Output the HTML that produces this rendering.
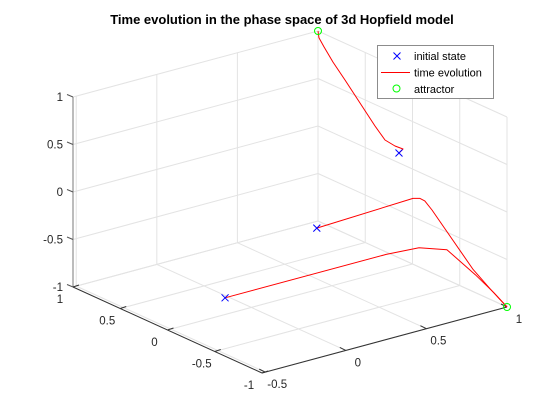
<!DOCTYPE html>
<html><head><meta charset="utf-8">
<style>
body{margin:0;background:#fff;}
svg{display:block;font-family:"Liberation Sans",Arial,sans-serif;}
</style></head>
<body>
<svg id="chart" width="560" height="420" viewBox="0 0 560 420" xmlns="http://www.w3.org/2000/svg">
<rect x="0" y="0" width="560" height="420" fill="#fff"/>
<text x="282" y="24" text-anchor="middle" font-size="13" font-weight="bold" fill="#000">Time evolution in the phase space of 3d Hopfield model</text>
<g id="grid"></g>
<g id="axes"></g>
<g id="series"></g>
<g>
<rect x="377.5" y="45.5" width="116" height="53" fill="#fff" stroke="#8c8c8c" stroke-width="1"/>
<g>
<path d="M393.5 52.5 L400.5 59.5 M400.5 52.5 L393.5 59.5" stroke="#0000ff" stroke-width="1" fill="none"/>
<text x="414" y="60" font-size="11" fill="#000">initial state</text>
</g>
<g>
<line x1="381" y1="72.5" x2="410" y2="72.5" stroke="#ff0000" stroke-width="1"/>
<text x="414" y="76.5" font-size="11" fill="#000">time evolution</text>
</g>
<g>
<circle cx="396.5" cy="88.5" r="3.5" fill="none" stroke="#00ff00" stroke-width="1"/>
<text x="414" y="93" font-size="11" fill="#000">attractor</text>
</g>
</g>
</svg>
<script>
// axis limits and ticks
const xLim = [-0.52, 1];
const yLim = [-1, 1];
const zLim = [-1, 1];
const xTicks = [-0.5, 0, 0.5, 1];
const yTicks = [-1, -0.5, 0, 0.5, 1];
const zTicks = [-1, -0.5, 0, 0.5, 1];
const xTickLabels = ["-0.5", "0", "0.5", "1"];
const yTickLabels = ["-1", "-0.5", "0", "0.5", "1"];
const zTickLabels = ["-1", "-0.5", "0", "0.5", "1"];
// trajectories (x, y, z)
const traj1X = [1, 1, 1, 1, 1, 1, 1, 1, 1, 1, 1];
const traj1Y = [0.143, 0.101, 0.185, 0.291, 0.397, 0.556, 0.714, 0.841, 0.937, 0.989, 1];
const traj1Z = [0.104, 0.165, 0.158, 0.174, 0.273, 0.443, 0.614, 0.745, 0.861, 0.932, 1];
const traj2X = [-0.18, 0.417, 0.46, 0.49, 0.535, 0.62, 0.79, 0.895, 1];
const traj2Y = [-1, -1, -1, -1, -1, -1, -1, -1, -1];
const traj2Z = [0.37, 0.41, 0.39, 0.35, 0.234, -0.016, -0.51, -0.76, -1];
const traj3X = [-0.5, 0.5, 0.7, 0.85, 0.95, 0.99, 1];
const traj3Y = [-0.575, -0.575, -0.58, -0.62, -0.75, -0.88, -1];
const traj3Z = [-0.41, -0.41, -0.43, -0.5, -0.75, -0.9, -1];
const initX = [1, -0.18, -0.5];
const initY = [0.143, -1, -0.575];
const initZ = [0.104, 0.37, -0.41];
const attrX = [1, 1];
const attrY = [1, -1];
const attrZ = [1, -1];

const NS = "http://www.w3.org/2000/svg";
const O = [262, 373];
const EX = [245 / (xLim[1] - xLim[0]), -66 / (xLim[1] - xLim[0])];
const EY = [-189 / 2, -86 / 2];
const EZ = [0, -190 / 2];
function proj(x, y, z) {
  const a = x - xLim[0], b = y - yLim[0], c = z - zLim[0];
  return [O[0] + a * EX[0] + b * EY[0] + c * EZ[0], O[1] + a * EX[1] + b * EY[1] + c * EZ[1]];
}
function mk(tag, attrs, parent) {
  const e = document.createElementNS(NS, tag);
  for (const k in attrs) e.setAttribute(k, attrs[k]);
  parent.appendChild(e);
  return e;
}
function seg(p, q, color, w, parent, name) {
  const l = mk("line", {x1: p[0], y1: p[1], x2: q[0], y2: q[1], stroke: color, "stroke-width": w}, parent);
  
  
  return l;
}
const grid = document.getElementById("grid");
const axes = document.getElementById("axes");
const series = document.getElementById("series");
const gc = "#e3e3e3";
xTicks.forEach(x => seg(proj(x, yLim[1], zLim[0]), proj(x, yLim[1], zLim[1]), gc, 1, grid, "grid-line-x"));
zTicks.forEach(z => seg(proj(xLim[0], yLim[1], z), proj(xLim[1], yLim[1], z), gc, 1, grid, "grid-line-z"));
yTicks.forEach(y => seg(proj(xLim[1], y, zLim[0]), proj(xLim[1], y, zLim[1]), gc, 1, grid, "grid-line-y"));
zTicks.forEach(z => seg(proj(xLim[1], yLim[0], z), proj(xLim[1], yLim[1], z), gc, 1, grid, "grid-line-z"));
xTicks.forEach(x => seg(proj(x, yLim[0], zLim[0]), proj(x, yLim[1], zLim[0]), gc, 1, grid, "grid-line-x"));
yTicks.forEach(y => seg(proj(xLim[0], y, zLim[0]), proj(xLim[1], y, zLim[0]), gc, 1, grid, "grid-line-y"));
seg(proj(xLim[0], yLim[1], zLim[0]), proj(xLim[0], yLim[1], zLim[1]), "#7a7a7a", 1, axes, "z-axis");
seg(proj(xLim[0], yLim[0], zLim[0]), proj(xLim[0], yLim[1], zLim[0]), "#333", 1, axes, "y-axis");
seg(proj(xLim[0], yLim[0], zLim[0]), proj(xLim[1], yLim[0], zLim[0]), "#333", 1, axes, "x-axis");
function label(t, p, anchor, name) {
  const e = mk("text", {x: p[0], y: p[1], "font-size": 11.5, fill: "#262626", "text-anchor": anchor}, axes);
  e.textContent = t;
  
  
}
zTicks.forEach((z, i) => {
  const p = proj(xLim[0], yLim[1], z);
  seg(p, [p[0] - 6, p[1] - 2.5], "#555", 1, axes, "z-tick");
  label(zTickLabels[i], [p[0] - 10, p[1] + 4], "end", "z-tick-label");
});
yTicks.forEach((y, i) => {
  const p = proj(xLim[0], y, zLim[0]);
  seg(p, [p[0] + 6, p[1] - 2], "#333", 1, axes, "y-tick");
  label(yTickLabels[i], [p[0] - 13, p[1] + 16], "middle", "y-tick-label");
});
xTicks.forEach((x, i) => {
  const p = proj(x, yLim[0], zLim[0]);
  seg(p, [p[0] - 6, p[1] - 3], "#333", 1, axes, "x-tick");
  label(xTickLabels[i], [p[0] + 12, p[1] + 16], "middle", "x-tick-label");
});
function path(X, Y, Z, name) {
  const d = X.map((x, i) => { const p = proj(x, Y[i], Z[i]); return (i ? "L" : "M") + p[0].toFixed(1) + " " + p[1].toFixed(1); }).join(" ");
  const e = mk("path", {d: d, fill: "none", stroke: "#ff0000", "stroke-width": 1, "stroke-linejoin": "round"}, series);
  
  
}
path(traj1X, traj1Y, traj1Z, "trajectory-1");
path(traj2X, traj2Y, traj2Z, "trajectory-2");
path(traj3X, traj3Y, traj3Z, "trajectory-3");
initX.forEach((x, i) => {
  const p = proj(x, initY[i], initZ[i]);
  const e = mk("path", {d: `M${p[0]-3.5} ${p[1]-3.5} L${p[0]+3.5} ${p[1]+3.5} M${p[0]+3.5} ${p[1]-3.5} L${p[0]-3.5} ${p[1]+3.5}`, stroke: "#0000ff", "stroke-width": 1, fill: "none"}, series);
  
  
});
attrX.forEach((x, i) => {
  const p = proj(x, attrY[i], attrZ[i]);
  const e = mk("circle", {cx: p[0], cy: p[1], r: 3.5, fill: "none", stroke: "#00ff00", "stroke-width": 1}, series);
  
  
});
</script>
</body></html>
